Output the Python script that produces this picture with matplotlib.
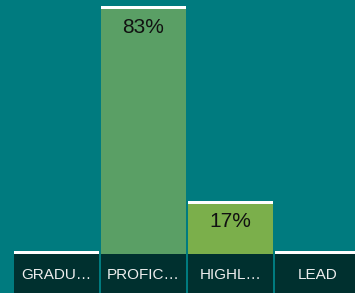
import matplotlib
matplotlib.use("Agg")
import matplotlib.pyplot as plt
from matplotlib.patches import Rectangle

categories = ["GRADU…", "PROFIC…", "HIGHL…", "LEAD"]
values = [0, 83, 17, 0]
bar_colors = ["#5A9F65", "#5A9F65", "#7BAF4B", "#5A9F65"]

BG = "#007B7F"
CELL = "#00302F"

W, H = 355, 293
fig = plt.figure(figsize=(W / 100, H / 100), dpi=100)
fig.patch.set_facecolor(BG)

x0, x1 = 13, 361
base = 254
ax = fig.add_axes([x0 / W, (H - base) / H, (x1 - x0) / W, base / H])
ax.set_facecolor(BG)
ymax = 86.2
ax.set_xlim(-0.5, len(categories) - 0.5)
ax.set_ylim(0, ymax)
ax.axis("off")

bw = 0.975
line_h = ymax / base * 3
xs = list(range(len(categories)))
ax.bar(xs, values, width=bw, color=bar_colors, linewidth=0)
ax.bar(xs, [line_h] * len(values), bottom=values, width=bw, color="white",
       linewidth=0, clip_on=False)

for x, v in zip(xs, values):
    if v > 0:
        ax.annotate(f"{v}%", (x, v), xytext=(0, -13), textcoords="offset points",
                    ha="center", va="center", fontsize=15, color="#111111",
                    family="Liberation Sans")

lax = fig.add_axes([x0 / W, 0, (x1 - x0) / W, (H - base) / H])
lax.set_xlim(-0.5, len(categories) - 0.5)
lax.set_ylim(0, 1)
lax.axis("off")
lax.patch.set_alpha(0)
for x, c in zip(xs, categories):
    lax.add_patch(Rectangle((x - bw / 2, 0), bw, 1, color=CELL, linewidth=0))
    lax.text(x, 0.45, c, ha="center", va="center", fontsize=11,
             color="#EEEEEE", family="Liberation Sans")

fig.savefig("out.png", dpi=100, facecolor=BG)
